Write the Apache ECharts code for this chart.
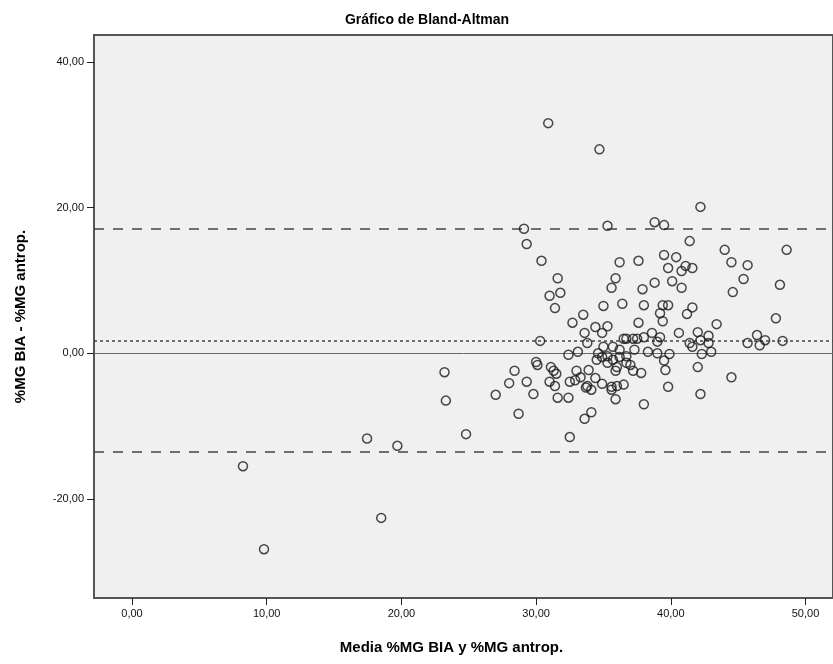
<!DOCTYPE html>
<html>
<head>
<meta charset="utf-8">
<script src="https://cdn.jsdelivr.net/npm/echarts@6/dist/echarts.min.js"></script>
<style>
  html, body { margin: 0; padding: 0; background: #ffffff; }
  #chart { width: 833px; height: 664px; }
</style>
</head>
<body>
<div id="chart"></div>
<script>
// Media de ambos métodos (%MG) para cada sujeto
const meanValues = [
  30.9, 34.7, 29.1, 35.3, 38.8, 39.5, 29.3, 30.4, 31.6, 31.0, 31.8, 36.2, 37.6, 35.9, 35.6, 37.9, 38.8, 39.5, 40.4, 39.8, 40.1,
  42.2, 41.4, 44.0, 48.6, 44.5, 45.7, 41.1, 41.6, 40.8, 40.8, 45.4, 44.6, 48.1, 39.8, 39.4, 41.6, 41.2, 39.4, 43.4, 47.8,
  40.6, 42.0, 42.8, 46.4, 41.4, 42.2, 42.8, 41.6, 45.7, 46.6, 47.0, 48.3, 42.3, 43.0, 39.9, 39.5, 39.6, 42.0, 44.5, 39.8, 42.2, 39.2,
  31.4, 35.0, 36.4, 38.0, 33.5, 32.7, 37.6, 39.2, 34.4, 35.3, 34.9, 33.6, 33.8, 30.3, 38.6, 39.0, 38.0, 36.5, 36.7, 37.2, 37.5,
  35.0, 35.7, 36.2, 37.3, 38.3, 39.0, 33.1, 32.4, 34.6, 35.3, 34.5, 34.9, 35.3, 35.7, 36.2, 36.7, 36.7, 36.0, 37.0, 37.2, 37.8, 35.9,
  30.0, 30.1, 28.4, 31.1, 31.3, 31.5, 31.0, 31.4, 29.3, 28.0, 27.0, 29.8, 31.6, 32.4, 33.0, 32.9, 32.5, 33.3, 33.9, 33.8, 34.1, 33.7,
  34.4, 34.9, 35.6, 35.6, 36.0, 36.5, 35.9, 38.0, 34.1, 33.6, 28.7, 32.5,
  23.2, 23.3, 24.8, 17.45, 19.7, 8.24, 18.5, 9.8
];

// Diferencia %MG BIA - %MG antropométrico para cada sujeto
const diffValues = [
  31.6, 28.0, 17.1, 17.5, 18.0, 17.6, 15.0, 12.7, 10.3, 7.9, 8.3, 12.5, 12.7, 10.3, 9.0, 8.8, 9.7, 13.5, 13.2, 11.7, 9.9,
  20.1, 15.4, 14.2, 14.2, 12.5, 12.1, 12.0, 11.7, 11.3, 9.0, 10.2, 8.4, 9.4, 6.6, 6.6, 6.3, 5.4, 4.4, 4.0, 4.8,
  2.8, 2.9, 2.4, 2.5, 1.4, 1.8, 1.4, 0.9, 1.4, 1.1, 1.8, 1.7, -0.1, 0.2, -0.1, -1.0, -2.3, -1.9, -3.3, -4.6, -5.6, 2.2,
  6.2, 6.5, 6.8, 6.6, 5.3, 4.2, 4.2, 5.5, 3.6, 3.7, 2.8, 2.8, 1.4, 1.7, 2.8, 1.6, 2.2, 2.0, 2.0, 2.0, 2.0,
  0.9, 0.9, 0.5, 0.5, 0.2, 0.0, 0.2, -0.2, 0.0, -0.4, -0.9, -0.5, -1.3, -0.9, -0.5, -0.4, -1.3, -1.9, -1.6, -2.4, -2.7, -2.4,
  -1.2, -1.6, -2.4, -1.9, -2.4, -2.8, -3.9, -4.5, -3.9, -4.1, -5.7, -5.6, -6.1, -6.1, -2.4, -3.7, -3.9, -3.3, -2.3, -4.5, -5.0, -4.7,
  -3.4, -4.2, -5.0, -4.6, -4.5, -4.3, -6.3, -7.0, -8.1, -9.0, -8.3, -11.5,
  -2.6, -6.5, -11.1, -11.7, -12.7, -15.5, -22.6, -26.9
];

// Líneas de referencia: media de las diferencias y límites de concordancia
const meanDiff = 1.7;
const upperLimit = 17.07;
const lowerLimit = -13.56;

// Marcas de los ejes
const xTicks = [0, 10, 20, 30, 40, 50];
const yTicks = [-20, 0, 20, 40];

const points = meanValues.map((m, i) => [m, diffValues[i]]);
const fmt = v => v.toFixed(2).replace('.', ',');
const FONT = 'Liberation Sans, Arial, sans-serif';

const chart = echarts.init(document.getElementById('chart'), null, { renderer: 'canvas' });
chart.setOption({
  animation: false,
  backgroundColor: '#ffffff',
  title: {
    text: 'Gráfico de Bland-Altman',
    left: 422, top: 8, textAlign: 'center',
    textStyle: { fontFamily: FONT, fontSize: 14, fontWeight: 'bold', color: '#000' }
  },
  grid: {
    left: 94, right: 0, top: 35, bottom: 66,
    show: true, backgroundColor: '#f0f0f0', borderColor: '#555', borderWidth: 2
  },
  xAxis: {
    type: 'value', min: -2.82, max: 52.04,
    name: 'Media %MG BIA y %MG antrop.', nameLocation: 'middle', nameGap: 42,
    nameTextStyle: { fontFamily: FONT, fontSize: 15, fontWeight: 'bold', color: '#000', padding: [0, 24, 0, 0] },
    axisLine: { show: true, onZero: false, lineStyle: { color: '#555', width: 2 } },
    axisTick: { show: true, inside: false, customValues: xTicks, length: 7, lineStyle: { color: '#222', width: 1 } },
    axisLabel: { customValues: xTicks, formatter: fmt, margin: 10, fontFamily: FONT, fontSize: 11, color: '#111' },
    splitLine: { show: false }
  },
  yAxis: {
    type: 'value', min: -33.6, max: 43.7,
    name: '%MG BIA - %MG antrop.', nameLocation: 'middle', nameGap: 66, nameRotate: 90,
    nameTextStyle: { fontFamily: FONT, fontSize: 15, fontWeight: 'bold', color: '#000' },
    axisLine: { show: true, onZero: false, lineStyle: { color: '#555', width: 2 } },
    axisTick: { show: true, inside: false, customValues: yTicks, length: 7, lineStyle: { color: '#222', width: 1 } },
    axisLabel: { customValues: yTicks, formatter: fmt, margin: 10, fontFamily: FONT, fontSize: 11, color: '#111' },
    splitLine: { show: false }
  },
  series: [
    {
      type: 'scatter',
      data: points,
      symbol: 'circle',
      symbolSize: 9,
      itemStyle: { color: 'rgba(0,0,0,0)', borderColor: '#1c1c1c', borderWidth: 1.5 },
      z: 5,
      markLine: {
        silent: true,
        symbol: 'none',
        label: { show: false },
        data: [
          { yAxis: 0, lineStyle: { color: '#6a6a6a', width: 1, type: 'solid' } },
          { yAxis: upperLimit, lineStyle: { color: '#444', width: 1.5, type: [10, 9] } },
          { yAxis: meanDiff, lineStyle: { color: '#444', width: 1.5, type: [3, 3] } },
          { yAxis: lowerLimit, lineStyle: { color: '#444', width: 1.5, type: [10, 9] } }
        ]
      }
    }
  ]
});
</script>
</body>
</html>
